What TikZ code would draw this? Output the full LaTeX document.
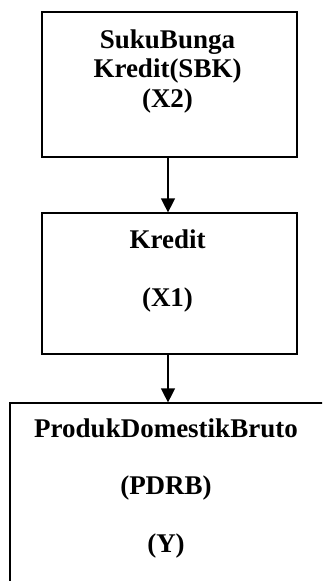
\documentclass[tikz,border=0pt]{standalone}
\usepackage{fontspec}
\setmainfont{Liberation Serif}
\usetikzlibrary{arrows.meta,positioning}

\begin{document}
\begin{tikzpicture}[x=1pt,y=1pt,yscale=-1,xscale=1,
    kotak/.style={draw, line width=1.2pt, minimum width=255pt, inner sep=0pt},
    teks/.style={font=\fontsize{27}{29.5}\selectfont\bfseries, align=center, inner sep=0pt, anchor=base},
    panah/.style={line width=1.2pt, -{Triangle[width=14pt,length=14pt]}}]
    \useasboundingbox (0,0) rectangle (322,581);
    \clip (0,0) rectangle (322,581);

    %Kotak: Suku Bunga Kredit
    \node[kotak, minimum height=145pt] (sbk) at (169.5,84.5) {};
    %Kotak: Kredit
    \node[kotak, minimum height=141pt] (kredit) at (169.5,283.5) {};
    %Kotak: PDRB (terpotong di kanan dan bawah)
    \node[kotak, minimum width=316pt, minimum height=197pt] (pdrb) at (168,501.5) {};

    % Text Node (base = baris terakhir, yshift terbalik karena yscale=-1)
    \node[teks] (sbkteks) at ([xshift=-2pt,yshift=96pt]sbk.north) {SukuBunga\\Kredit(SBK)\\(X2)};
    % Text Node
    \node[teks] (kreditteks) at ([xshift=-2pt,yshift=94pt]kredit.north) {Kredit\\[28.5pt](X1)};
    % Text Node
    \node[teks] (pdrbteks) at ([xshift=-2pt,yshift=150pt]pdrb.north) {ProdukDomestikBruto\\[28pt](PDRB)\\[28pt](Y)};

    %Panah
    \draw[panah] ([xshift=-1.5pt]sbk.south) -- ([xshift=-1.5pt]kredit.north);
    \draw[panah] ([xshift=-1.5pt]kredit.south) -- (pdrb.north);
\end{tikzpicture}
\end{document}
